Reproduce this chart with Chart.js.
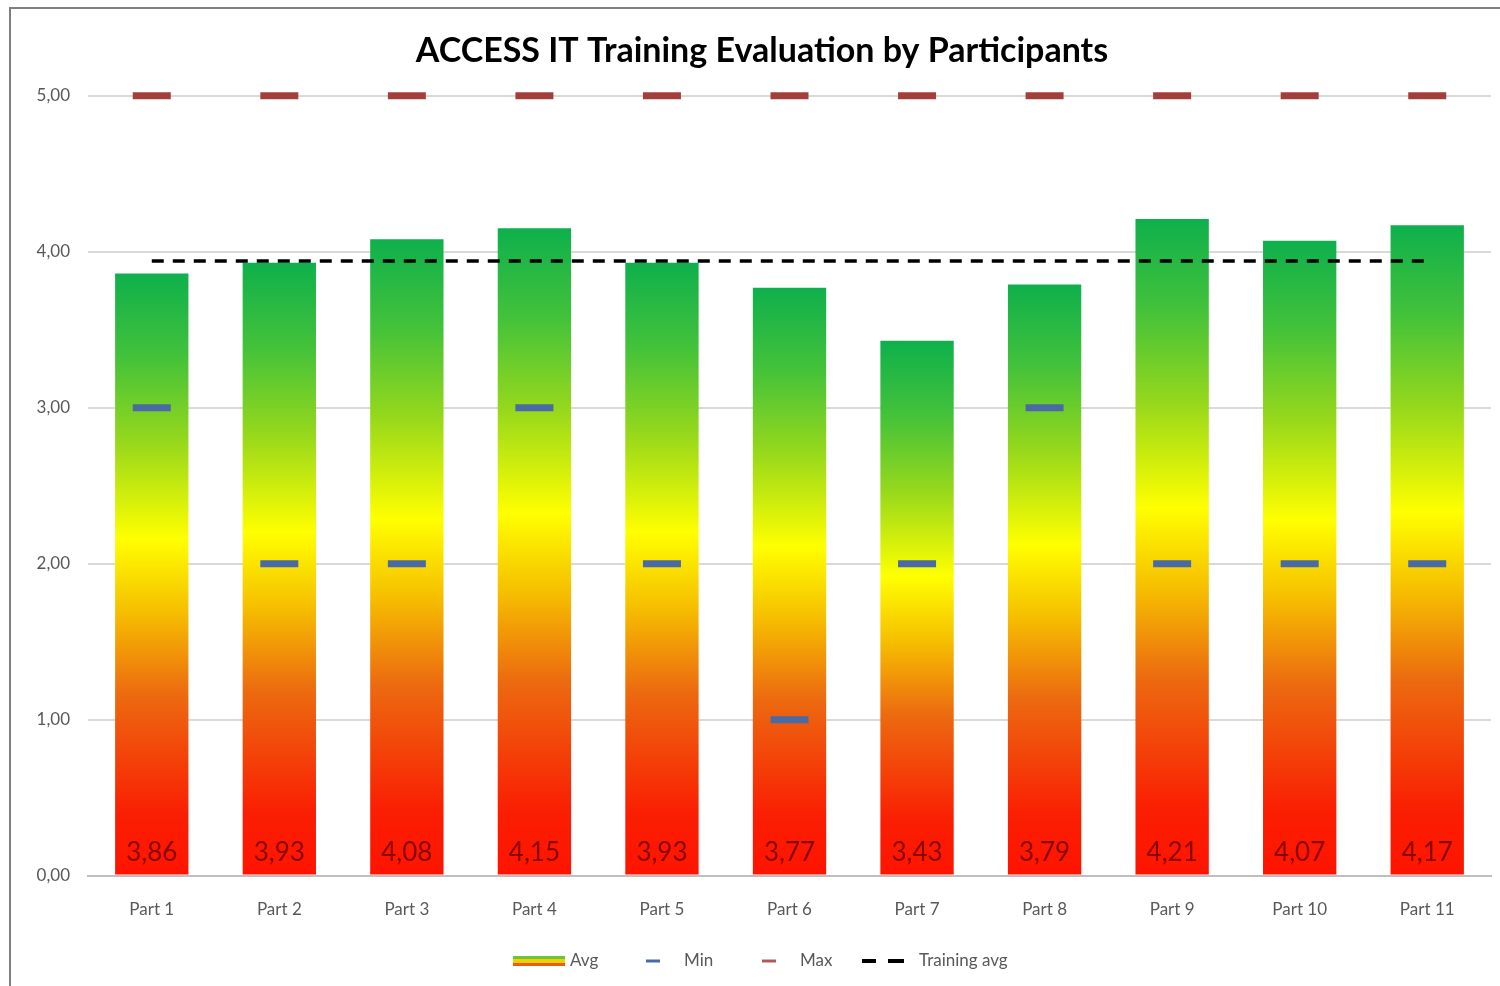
<!DOCTYPE html>
<html>
<head>
<meta charset="utf-8">
<script src="https://cdn.jsdelivr.net/npm/chart.js@4.4.1/dist/chart.umd.min.js"></script>
<style>
  body { margin: 0; background: #fff; overflow: hidden; }
  #frame { position: absolute; left: 9px; top: 7px; width: 1520px; height: 1010px; border: 2px solid #7f7f7f; box-sizing: border-box; }
  #chart { position: absolute; left: 0; top: 0; }
</style>
</head>
<body>
<div id="frame"></div>
<canvas id="chart" width="1500" height="986"></canvas>
<script>
// chart data
const parts = ['Part 1', 'Part 2', 'Part 3', 'Part 4', 'Part 5', 'Part 6', 'Part 7', 'Part 8', 'Part 9', 'Part 10', 'Part 11'];
const avgScores = [3.86, 3.93, 4.08, 4.15, 3.93, 3.77, 3.43, 3.79, 4.21, 4.07, 4.17];
const minScores = [3, 2, 2, 3, 2, 1, 2, 3, 2, 2, 2];
const maxScores = [5, 5, 5, 5, 5, 5, 5, 5, 5, 5, 5];
const trainingAvg = [3.94, 3.94, 3.94, 3.94, 3.94, 3.94, 3.94, 3.94, 3.94, 3.94, 3.94];
const yTicks = [0, 1, 2, 3, 4, 5];

const FONT = "Lato, 'Open Sans', sans-serif";
const fmt = v => v.toFixed(2).replace('.', ',');

// red -> yellow -> green fill, stretched over each bar
function barGradient(context) {
  const chart = context.chart;
  const y = chart.scales.y;
  if (!y || context.dataIndex === undefined) return '#f5b800';
  const top = y.getPixelForValue(avgScores[context.dataIndex]);
  const base = y.getPixelForValue(0);
  if (!isFinite(top) || !isFinite(base)) return '#f5b800';
  const g = chart.ctx.createLinearGradient(0, base, 0, top);
  g.addColorStop(0, '#ff1400');
  g.addColorStop(0.1, '#fa1e02');
  g.addColorStop(0.3, '#ec6a10');
  g.addColorStop(0.44, '#f6c000');
  g.addColorStop(0.56, '#ffff00');
  g.addColorStop(0.72, '#96d81c');
  g.addColorStop(0.86, '#44c23a');
  g.addColorStop(1, '#0eb04c');
  return g;
}

// value labels at the foot of each bar
const barLabels = {
  id: 'barLabels',
  afterDatasetsDraw(chart) {
    const idx = chart.data.datasets.findIndex(d => d.type === 'bar');
    const meta = chart.getDatasetMeta(idx);
    const ctx = chart.ctx;
    ctx.save();
    ctx.font = "26px " + FONT;
    ctx.fillStyle = 'rgba(120, 0, 0, 0.88)';
    ctx.textAlign = 'center';
    ctx.textBaseline = 'middle';
    meta.data.forEach((bar, i) => {
      ctx.fillText(fmt(avgScores[i]), bar.x, bar.base - 22);
    });
    ctx.restore();
  }
};

// legend drawn by hand so every key can have its own mark
const customLegend = {
  id: 'customLegend',
  afterDraw(chart) {
    const ctx = chart.ctx;
    const y = 961;
    ctx.save();
    ctx.font = "17px " + FONT;
    ctx.textBaseline = 'middle';

    // Avg
    const x = 513;
    ctx.fillStyle = '#6cc43a'; ctx.fillRect(x, y - 5, 52, 3);
    ctx.fillStyle = '#f0d000'; ctx.fillRect(x, y - 2, 52, 4);
    ctx.fillStyle = '#ef5a18'; ctx.fillRect(x, y + 2, 52, 3);
    ctx.fillStyle = '#595959';
    ctx.fillText('Avg', 570, y);

    // Min
    ctx.strokeStyle = '#4a6aa5'; ctx.lineWidth = 3;
    ctx.beginPath(); ctx.moveTo(646, y); ctx.lineTo(660, y); ctx.stroke();
    ctx.fillText('Min', 684, y);

    // Max
    ctx.strokeStyle = '#b05a58';
    ctx.beginPath(); ctx.moveTo(762, y); ctx.lineTo(776, y); ctx.stroke();
    ctx.fillText('Max', 800, y);

    // Training avg
    ctx.strokeStyle = '#000'; ctx.lineWidth = 4;
    ctx.beginPath(); ctx.moveTo(862, y); ctx.lineTo(876, y); ctx.moveTo(888, y); ctx.lineTo(904, y); ctx.stroke();
    ctx.fillText('Training avg', 919, y);
    ctx.restore();
  }
};

const ctx = document.getElementById('chart').getContext('2d');
new Chart(ctx, {
  data: {
    labels: parts,
    datasets: [
      {
        type: 'line',
        label: 'Training avg',
        data: trainingAvg,
        borderColor: '#000',
        borderWidth: 3.5,
        borderDash: [12, 9],
        pointRadius: 0,
        fill: false,
        order: 1
      },
      {
        type: 'line',
        label: 'Min',
        data: minScores,
        showLine: false,
        clip: false,
        pointStyle: 'line',
        pointRadius: 19,
        pointBorderWidth: 7,
        pointBorderColor: '#4a6aa5',
        pointBackgroundColor: '#4a6aa5',
        order: 0
      },
      {
        type: 'line',
        label: 'Max',
        data: maxScores,
        showLine: false,
        clip: false,
        pointStyle: 'line',
        pointRadius: 19,
        pointBorderWidth: 7,
        pointBorderColor: '#a33f3b',
        pointBackgroundColor: '#a33f3b',
        order: 0
      },
      {
        type: 'bar',
        label: 'Avg',
        data: avgScores,
        backgroundColor: barGradient,
        barPercentage: 0.575,
        categoryPercentage: 1,
        order: 2
      }
    ]
  },
  options: {
    responsive: false,
    animation: false,
    layout: { autoPadding: false, padding: { left: 33, right: 9, top: 0, bottom: 42 } },
    plugins: {
      legend: { display: false },
      tooltip: { enabled: false },
      title: {
        display: true,
        text: 'ACCESS IT Training Evaluation by Participants',
        color: '#000',
        font: { family: FONT, size: 34, weight: 'bold' },
        padding: { top: 31, bottom: 24 }
      }
    },
    scales: {
      x: {
        grid: { display: false, drawTicks: false },
        border: { display: true, color: '#bfbfbf', width: 2 },
        ticks: { color: '#595959', font: { family: FONT, size: 17 }, padding: 24 }
      },
      y: {
        min: 0,
        max: 5,
        afterBuildTicks: axis => { axis.ticks = yTicks.map(v => ({ value: v })); },
        afterFit: axis => { axis.width = 55; },
        grid: { color: '#d9d9d9', lineWidth: 2, drawTicks: false },
        border: { display: false },
        ticks: {
          color: '#595959',
          font: { family: FONT, size: 17 },
          padding: 18,
          callback: v => fmt(v)
        }
      }
    }
  },
  plugins: [barLabels, customLegend]
});
</script>
</body>
</html>
